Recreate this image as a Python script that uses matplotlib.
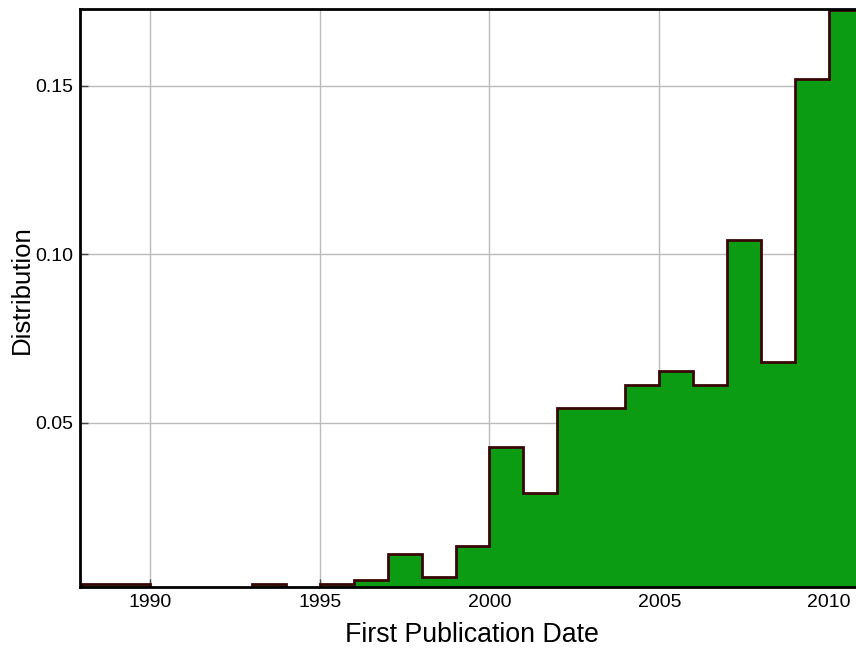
import matplotlib
matplotlib.use("Agg")
import matplotlib.pyplot as plt

# yearly bin edges and normalised counts
YEAR_EDGES = list(range(1988, 2012))
DIST = [0.0022, 0.0022, 0.0, 0.0, 0.0, 0.0022, 0.0, 0.0022, 0.0035,
        0.0111, 0.0043, 0.0134, 0.0429, 0.0292, 0.0543, 0.0543, 0.0611,
        0.0655, 0.0611, 0.1042, 0.0679, 0.1518, 0.1725]
X_TICKS = [1990, 1995, 2000, 2005, 2010]
Y_TICKS = [0.05, 0.10, 0.15]

plt.rcParams["font.family"] = ["Liberation Sans", "DejaVu Sans"]

fig = plt.figure(figsize=(8.56, 6.5), dpi=100)
ax = fig.add_axes([80 / 856, 1 - 587 / 650, 783 / 856, 578 / 650])

ax.stairs(DIST, YEAR_EDGES, fill=True, facecolor="#0c9c14",
          edgecolor="#3a0505", linewidth=2, zorder=2)

ax.set_xlim(1987.94, 2011)
ax.set_ylim(0.0013, 0.1727)
ax.set_xticks(X_TICKS)
ax.set_yticks(Y_TICKS)
ax.set_yticklabels([f"{v:.2f}" for v in Y_TICKS])
ax.tick_params(direction="in", length=6, width=1, color="#444444",
               labelsize=14, pad=5)
ax.grid(True, color="#bbbbbb", linewidth=1, zorder=0)
ax.set_axisbelow(True)

for side in ("left", "bottom", "top"):
    ax.spines[side].set_linewidth(2)
    ax.spines[side].set_color("black")
ax.spines["right"].set_visible(False)

ax.set_xlabel("First Publication Date", fontsize=19.3, labelpad=8)
ax.set_ylabel("Distribution", fontsize=18.5)
ax.yaxis.set_label_coords(-0.059, 0.515)

fig.savefig("out.png", dpi=100)
plt.close(fig)
